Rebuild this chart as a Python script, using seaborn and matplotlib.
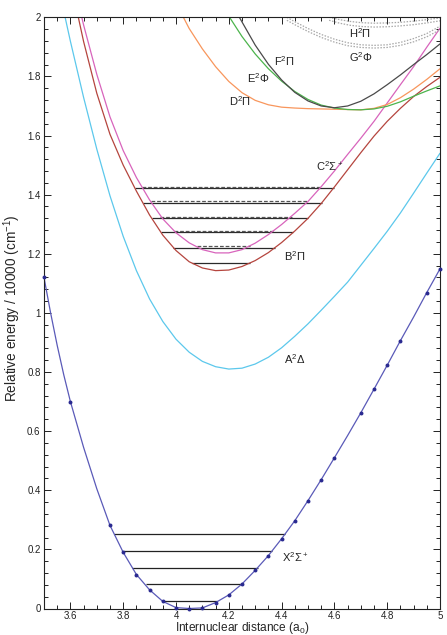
import numpy as np
import pandas as pd
import matplotlib
matplotlib.use("Agg")
import matplotlib.pyplot as plt
from matplotlib.ticker import MultipleLocator
import seaborn as sns

# ---------------- data ----------------
# X2Sigma+ : computed points (markers)
X_pts_r = [3.5, 3.6, 3.75, 3.8, 3.85, 3.9, 3.95, 4.0, 4.05, 4.1, 4.15, 4.2, 4.25,
           4.3, 4.35, 4.4, 4.45, 4.5, 4.55, 4.6, 4.7, 4.75, 4.8, 4.85, 4.95, 5.0]
X_pts_E = [1.12, 0.70, 0.281, 0.19, 0.115, 0.063, 0.024, 0.003, 0.0, 0.002, 0.02, 0.046, 0.083,
           0.129, 0.179, 0.236, 0.297, 0.365, 0.436, 0.51, 0.662, 0.742, 0.823, 0.906, 1.069, 1.149]
# X2Sigma+ : fitted curve
X_line_r = [3.5, 3.525, 3.55, 3.575, 3.6, 3.65, 3.7, 3.75, 3.8, 3.85, 3.9, 3.95, 4.0, 4.05,
            4.1, 4.15, 4.2, 4.25, 4.3, 4.35, 4.4, 4.45, 4.5, 4.55, 4.6, 4.65, 4.7, 4.75,
            4.8, 4.85, 4.9, 4.95, 5.0]
X_line_E = [1.12, 1.0, 0.89, 0.79, 0.70, 0.545, 0.405, 0.281, 0.19, 0.115, 0.063, 0.024, 0.003, 0.0,
            0.002, 0.02, 0.046, 0.083, 0.129, 0.179, 0.236, 0.297, 0.365, 0.436, 0.51, 0.585, 0.662, 0.742,
            0.823, 0.906, 0.986, 1.069, 1.149]
X_lev_E = [0.026, 0.084, 0.137, 0.193, 0.251]
X_lev_lo = [3.955, 3.885, 3.832, 3.80, 3.766]
X_lev_hi = [4.155, 4.254, 4.31, 4.364, 4.414]

# A2Delta
A_r = [3.58, 3.60, 3.65, 3.70, 3.75, 3.80, 3.85, 3.90, 3.95, 4.00, 4.05, 4.10, 4.15, 4.20, 4.25,
       4.30, 4.35, 4.40, 4.45, 4.50, 4.55, 4.60, 4.65, 4.70, 4.75, 4.80, 4.85, 4.90, 4.95, 5.00]
A_E = [2.00, 1.919, 1.729, 1.554, 1.396, 1.259, 1.143, 1.047, 0.971, 0.911, 0.867, 0.836, 0.818,
       0.810, 0.813, 0.827, 0.850, 0.882, 0.921, 0.963, 1.009, 1.056, 1.104, 1.161, 1.218,
       1.276, 1.338, 1.405, 1.473, 1.540]

# B2Pi
B_r = [3.63, 3.65, 3.70, 3.75, 3.80, 3.85, 3.90, 3.95, 4.00, 4.05, 4.10, 4.15, 4.20, 4.25, 4.30,
       4.35, 4.40, 4.45, 4.50, 4.55, 4.60, 4.65, 4.70, 4.75, 4.80, 4.85, 4.90, 4.95, 5.00]
B_E = [2.00, 1.918, 1.743, 1.604, 1.500, 1.412, 1.331, 1.263, 1.211, 1.173, 1.152, 1.143, 1.145,
       1.157, 1.177, 1.204, 1.238, 1.277, 1.320, 1.370, 1.426, 1.484, 1.542, 1.598, 1.648,
       1.692, 1.732, 1.766, 1.797]
B_lev_E = [1.168, 1.220, 1.272, 1.320, 1.373, 1.424]
B_lev_lo = [4.059, 3.99, 3.943, 3.908, 3.874, 3.845]
B_lev_hi = [4.28, 4.375, 4.444, 4.50, 4.552, 4.598]

# C2Sigma+
C_r = [3.643, 3.65, 3.70, 3.75, 3.80, 3.85, 3.90, 3.95, 4.00, 4.05, 4.10, 4.15, 4.20, 4.25, 4.30,
       4.35, 4.40, 4.45, 4.50, 4.55, 4.60, 4.65, 4.70, 4.75, 4.80, 4.85, 4.90, 4.95, 5.00]
C_E = [2.00, 1.974, 1.807, 1.663, 1.549, 1.458, 1.382, 1.318, 1.271, 1.237, 1.214, 1.203, 1.203,
       1.214, 1.236, 1.265, 1.299, 1.337, 1.377, 1.427, 1.480, 1.536, 1.591, 1.648, 1.710,
       1.772, 1.833, 1.899, 1.963]
C_lev_E = [1.227, 1.277, 1.326, 1.377, 1.427]
C_lev_lo = [4.078, 3.992, 3.939, 3.904, 3.87]
C_lev_hi = [4.28, 4.369, 4.438, 4.501, 4.552]

# D2Pi
D_r = [4.028, 4.05, 4.10, 4.15, 4.20, 4.25, 4.30, 4.35, 4.40, 4.45, 4.50, 4.55, 4.60, 4.65, 4.70,
       4.75, 4.80, 4.85, 4.90, 4.95, 5.00]
D_E = [2.00, 1.962, 1.893, 1.833, 1.783, 1.745, 1.719, 1.704, 1.696, 1.693, 1.691, 1.690, 1.689,
       1.688, 1.687, 1.692, 1.705, 1.728, 1.757, 1.790, 1.826]

# E2Phi
E_r = [4.203, 4.25, 4.30, 4.35, 4.40, 4.45, 4.50, 4.55, 4.60, 4.65, 4.70, 4.75, 4.80, 4.85, 4.90,
       4.95, 5.00]
E_E = [2.00, 1.935, 1.876, 1.826, 1.784, 1.749, 1.722, 1.703, 1.693, 1.688, 1.687, 1.690, 1.699,
       1.714, 1.733, 1.751, 1.768]

# F2Pi
F_r = [4.24, 4.30, 4.35, 4.40, 4.45, 4.50, 4.55, 4.60, 4.65, 4.70, 4.75, 4.80, 4.85, 4.90, 4.95, 5.00]
F_E = [2.00, 1.906, 1.841, 1.788, 1.746, 1.717, 1.700, 1.694, 1.700, 1.716, 1.741, 1.772, 1.805,
       1.840, 1.874, 1.910]

# G2Phi (pair of dotted curves)
G_r = [4.42, 4.45, 4.50, 4.55, 4.60, 4.65, 4.70, 4.75, 4.80, 4.85, 4.90, 4.95, 5.00]
G1_E = [2.00, 1.985, 1.962, 1.942, 1.926, 1.914, 1.907, 1.905, 1.907, 1.915, 1.928, 1.945, 1.970]
G2_E = [1.99, 1.975, 1.952, 1.932, 1.916, 1.904, 1.898, 1.896, 1.898, 1.905, 1.917, 1.934, 1.958]

# H2Pi (pair of dotted curves)
H_r = [4.58, 4.62, 4.66, 4.70, 4.75, 4.80, 4.85, 4.90, 4.95, 5.00]
H1_E = [2.00, 1.992, 1.986, 1.982, 1.980, 1.981, 1.983, 1.987, 1.992, 1.998]
H2_E = [1.99, 1.980, 1.973, 1.969, 1.967, 1.968, 1.971, 1.975, 1.981, 1.988]

labels = ["X$^2\\Sigma^+$", "A$^2\\Delta$", "B$^2\\Pi$", "C$^2\\Sigma^+$", "D$^2\\Pi$",
          "E$^2\\Phi$", "F$^2\\Pi$", "G$^2\\Phi$", "H$^2\\Pi$"]
label_x = [4.40, 4.41, 4.41, 4.53, 4.20, 4.27, 4.37, 4.655, 4.655]
label_y = [0.173, 0.843, 1.193, 1.495, 1.715, 1.795, 1.851, 1.867, 1.947]

# ---------------- style ----------------
sns.set_style("ticks")
plt.rcParams['font.family'] = ['Liberation Sans', 'DejaVu Sans']
plt.rcParams['mathtext.fontset'] = 'custom'
plt.rcParams['mathtext.rm'] = 'Liberation Sans'
plt.rcParams['mathtext.it'] = 'Liberation Sans'
plt.rcParams['mathtext.bf'] = 'Liberation Sans:bold'

fig = plt.figure(figsize=(4.47, 6.35), dpi=100)
ax = fig.add_axes([44 / 447, 1 - 608.5 / 635, 396 / 447, (608.5 - 17.3) / 635])

lw = 0.9
c_X = '#5a5ab8'
c_Xm = '#2a2a90'
c_A = '#5cc8ec'
c_B = '#b5453e'
c_C = '#d864bc'
c_D = '#f8965c'
c_E = '#4cb44c'
c_F = '#4a4a4a'
c_GH = '#a8a8a8'

def curve(r, e, color, **kw):
    df = pd.DataFrame({'r': r, 'E': e})
    sns.lineplot(data=df, x='r', y='E', color=color, lw=lw, ax=ax, sort=False,
                 estimator=None, legend=False, **kw)

# vibrational levels
ax.hlines(X_lev_E, X_lev_lo, X_lev_hi, color='#222222', lw=0.9, zorder=1)
ax.hlines(B_lev_E, B_lev_lo, B_lev_hi, color='#2a2a2a', lw=0.9, zorder=1)
ax.hlines(C_lev_E, C_lev_lo, C_lev_hi, color='#555555', lw=0.9, linestyles=(0, (3.0, 1.5)), zorder=1)

curve(X_line_r, X_line_E, c_X)
sns.scatterplot(x=X_pts_r, y=X_pts_E, color=c_Xm, s=8, linewidth=0, ax=ax, zorder=5, clip_on=False)
curve(A_r, A_E, c_A)
curve(B_r, B_E, c_B)
curve(C_r, C_E, c_C)
curve(D_r, D_E, c_D)
curve(E_r, E_E, c_E)
curve(F_r, F_E, c_F)
for ee in (G1_E, G2_E):
    curve(G_r, ee, c_GH, linestyle=(0, (1.2, 1.2)))
for ee in (H1_E, H2_E):
    curve(H_r, ee, c_GH, linestyle=(0, (1.2, 1.2)))

for t, x, y in zip(labels, label_x, label_y):
    ax.text(x, y, t, fontsize=8, ha='left', va='center', color='#222222')

ax.set_xlim(3.5, 5.0)
ax.set_ylim(0, 2.0)
ax.xaxis.set_major_locator(MultipleLocator(0.2))
ax.xaxis.set_minor_locator(MultipleLocator(0.05))
ax.yaxis.set_major_locator(MultipleLocator(0.2))
ax.yaxis.set_minor_locator(MultipleLocator(0.04))
fmt = lambda v, p: ('%g' % round(v, 6))
ax.xaxis.set_major_formatter(plt.FuncFormatter(fmt))
ax.yaxis.set_major_formatter(plt.FuncFormatter(fmt))
ax.tick_params(which='both', direction='in', top=True, right=True, colors='#222222',
               labelsize=7.0, width=0.7)
ax.tick_params(which='major', length=5, pad=2.5)
ax.tick_params(axis='x', which='major', pad=1.8)
ax.tick_params(which='minor', length=2.8)
for s in ax.spines.values():
    s.set_visible(True)
    s.set_linewidth(0.8)
    s.set_color('#222222')

ax.set_xlabel("Internuclear distance (a$_0$)", fontsize=8.6)
ax.xaxis.set_label_coords(0.5, (608.5 - 620.5) / 591.2)
ax.set_ylabel("Relative energy / 10000 (cm$^{-1}$)", fontsize=9.8)
ax.yaxis.set_label_coords((23.0 - 44) / 396, 0.508)

fig.savefig("out.png", dpi=100)
